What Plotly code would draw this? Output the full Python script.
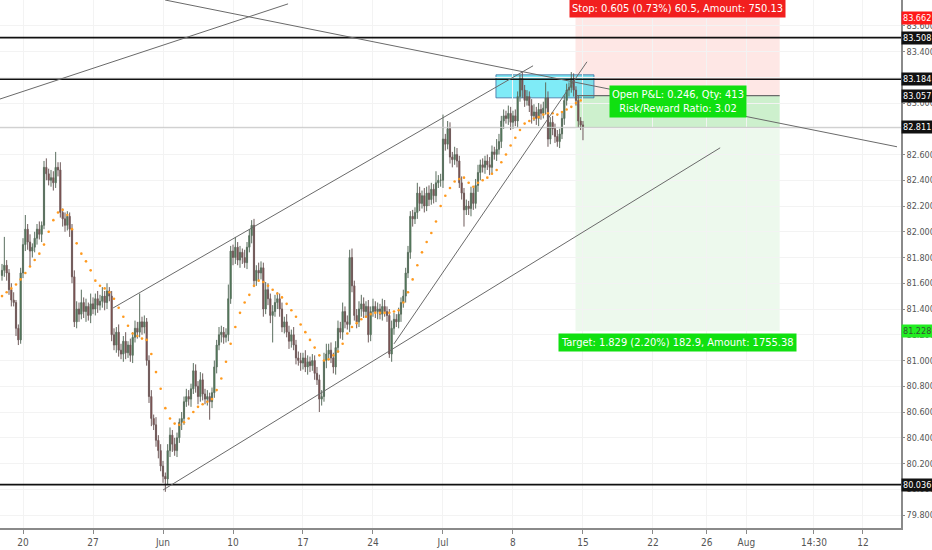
import plotly.graph_objects as go

# 4H CADJPY-like bars, index k = bar number (6 bars per trading day, k=0 -> Mon May 20)
bar_start = -9
first_open = 81.66
closes = [
    81.70, 81.74, 81.68,
    81.55, 81.47, 81.45, 81.25, 81.16, 81.68,
    81.90, 82.02, 81.92, 81.85, 81.88, 81.95,
    82.02, 81.98, 82.05, 82.50, 82.45, 82.40,
    82.42, 82.38, 82.50, 82.48, 82.15, 82.10,
    82.05, 82.12, 82.02, 81.65, 81.30, 81.40,
    81.36, 81.45, 81.38, 81.42, 81.35, 81.44,
    81.40, 81.48, 81.43, 81.46, 81.50, 81.45,
    81.54, 81.50, 81.20, 81.12, 81.22, 81.08,
    81.05, 81.15, 81.06, 81.12, 81.04, 81.18,
    81.25, 81.22, 81.30, 81.26, 81.30, 81.00,
    80.72, 80.55, 80.50, 80.38, 80.30, 80.18,
    80.10, 80.08, 80.30, 80.42, 80.35, 80.30,
    80.40, 80.52, 80.55, 80.68, 80.72, 80.70,
    80.78, 80.92, 80.80, 80.72, 80.85, 80.74,
    80.70, 80.72, 80.68, 80.75, 80.95, 81.12,
    81.20, 81.22, 81.18, 81.20, 81.48, 81.85,
    81.80, 81.88, 81.78, 81.84, 81.80, 81.76,
    81.88, 81.97, 82.05, 81.62, 81.70, 81.68,
    81.72, 81.40, 81.55, 81.48, 81.35, 81.38,
    81.45, 81.48, 81.40, 81.26, 81.30, 81.22,
    81.15, 81.20, 81.12, 81.02, 81.00, 80.98,
    81.02, 80.95, 80.99, 80.96, 81.00, 80.90,
    80.85, 80.70, 80.72, 81.00, 81.05, 81.08,
    81.02, 80.95, 81.10, 81.25, 81.22, 81.38,
    81.30, 81.28, 81.80, 81.58, 81.35, 81.30,
    81.40, 81.44, 81.38, 81.42, 81.20, 81.38,
    81.42, 81.38, 81.40, 81.36, 81.42, 81.38,
    81.35, 81.05, 81.25, 81.32, 81.30, 81.36,
    81.45, 81.50, 81.68, 81.84, 82.12, 82.10,
    82.15, 82.30, 82.22, 82.28, 82.20, 82.30,
    82.25, 82.33, 82.28, 82.38, 82.40, 82.40,
    82.72, 82.68, 82.80, 82.58, 82.56, 82.60,
    82.55, 82.38, 82.30, 82.17, 82.20, 82.18,
    82.30, 82.22, 82.36, 82.46, 82.52, 82.50,
    82.55, 82.52, 82.50, 82.62, 82.60, 82.64,
    82.70, 82.86, 82.90, 82.88, 82.92, 82.85,
    82.90, 82.86, 83.05, 83.19, 83.10, 83.02,
    83.05, 82.98, 82.90, 82.93, 82.88, 82.95,
    82.92, 82.96, 83.04, 82.72, 82.85, 82.80,
    82.74, 82.70, 82.76, 82.88, 83.02, 83.10,
    83.12, 83.19, 83.10, 83.02, 82.86, 82.83,
    82.811,
]
upper_wick = [
    0.05, 0.22, 0.04,
    0.03, 0.05, 0.06, 0.02, 0.03, 0.04,
    0.05, 0.11, 0.04, 0.06, 0.03, 0.05,
    0.04, 0.06, 0.03, 0.05, 0.07, 0.04,
    0.06, 0.05, 0.12, 0.04, 0.06, 0.03,
    0.05, 0.04, 0.03, 0.04, 0.05, 0.06,
    0.05, 0.10, 0.04, 0.06, 0.03, 0.08,
    0.05, 0.04, 0.06, 0.05, 0.07, 0.04,
    0.06, 0.03, 0.04, 0.05, 0.04, 0.06,
    0.05, 0.04, 0.07, 0.03, 0.05, 0.04,
    0.06, 0.05, 0.22, 0.04, 0.05, 0.03,
    0.04, 0.05, 0.03, 0.06, 0.04, 0.05,
    0.04, 0.03, 0.05, 0.06, 0.04, 0.05,
    0.04, 0.03, 0.05, 0.04, 0.06, 0.05,
    0.04, 0.06, 0.05, 0.04, 0.06, 0.05,
    0.04, 0.05, 0.03, 0.04, 0.05, 0.04,
    0.06, 0.05, 0.04, 0.05, 0.11, 0.04,
    0.05, 0.08, 0.04, 0.05, 0.03, 0.06,
    0.04, 0.05, 0.04, 0.05, 0.04, 0.06,
    0.05, 0.04, 0.06, 0.05, 0.04, 0.05,
    0.06, 0.05, 0.04, 0.05, 0.04, 0.06,
    0.05, 0.04, 0.06, 0.04, 0.05, 0.06,
    0.04, 0.06, 0.05, 0.04, 0.05, 0.04,
    0.05, 0.04, 0.05, 0.06, 0.08, 0.05,
    0.06, 0.04, 0.05, 0.06, 0.05, 0.07,
    0.04, 0.05, 0.06, 0.07, 0.04, 0.05,
    0.06, 0.07, 0.05, 0.04, 0.05, 0.04,
    0.06, 0.04, 0.05, 0.04, 0.06, 0.05,
    0.04, 0.05, 0.06, 0.05, 0.04, 0.05,
    0.04, 0.05, 0.04, 0.05, 0.04, 0.05,
    0.04, 0.08, 0.05, 0.04, 0.06, 0.05,
    0.06, 0.05, 0.04, 0.09, 0.04, 0.05,
    0.19, 0.04, 0.06, 0.05, 0.04, 0.06,
    0.05, 0.04, 0.05, 0.04, 0.05, 0.04,
    0.05, 0.04, 0.05, 0.06, 0.04, 0.05,
    0.04, 0.05, 0.06, 0.05, 0.04, 0.08,
    0.06, 0.04, 0.05, 0.04, 0.06, 0.05,
    0.04, 0.05, 0.04, 0.03, 0.05, 0.04,
    0.05, 0.04, 0.05, 0.06, 0.04, 0.05,
    0.04, 0.05, 0.12, 0.05, 0.04, 0.05,
    0.04, 0.05, 0.04, 0.05, 0.04, 0.05,
    0.04, 0.05, 0.04, 0.03, 0.04, 0.03,
    0.03,
]
lower_wick = [
    0.04, 0.05, 0.06,
    0.04, 0.05, 0.03, 0.06, 0.04, 0.03,
    0.04, 0.05, 0.06, 0.12, 0.05, 0.04,
    0.05, 0.04, 0.06, 0.03, 0.05, 0.04,
    0.05, 0.06, 0.04, 0.05, 0.04, 0.06,
    0.05, 0.04, 0.06, 0.05, 0.04, 0.05,
    0.06, 0.04, 0.05, 0.08, 0.04, 0.06,
    0.04, 0.05, 0.06, 0.04, 0.05, 0.06,
    0.05, 0.04, 0.05, 0.04, 0.06, 0.05,
    0.04, 0.06, 0.05, 0.04, 0.05, 0.06,
    0.04, 0.05, 0.04, 0.06, 0.05, 0.04,
    0.05, 0.06, 0.04, 0.05, 0.06, 0.04,
    0.05, 0.10, 0.04, 0.05, 0.06, 0.04,
    0.05, 0.04, 0.06, 0.05, 0.04, 0.05,
    0.06, 0.04, 0.05, 0.06, 0.04, 0.05,
    0.04, 0.05, 0.14, 0.05, 0.04, 0.05,
    0.04, 0.06, 0.05, 0.04, 0.05, 0.04,
    0.06, 0.05, 0.04, 0.06, 0.05, 0.04,
    0.05, 0.04, 0.06, 0.05, 0.04, 0.06,
    0.05, 0.06, 0.04, 0.05, 0.06, 0.21,
    0.04, 0.05, 0.06, 0.04, 0.05, 0.04,
    0.06, 0.05, 0.04, 0.05, 0.04, 0.06,
    0.05, 0.04, 0.06, 0.05, 0.04, 0.05,
    0.04, 0.10, 0.05, 0.04, 0.06, 0.05,
    0.04, 0.05, 0.06, 0.04, 0.05, 0.06,
    0.05, 0.04, 0.06, 0.05, 0.04, 0.05,
    0.04, 0.06, 0.05, 0.04, 0.06, 0.05,
    0.04, 0.05, 0.06, 0.04, 0.05, 0.04,
    0.05, 0.03, 0.06, 0.05, 0.04, 0.05,
    0.06, 0.04, 0.05, 0.04, 0.05, 0.06,
    0.04, 0.05, 0.06, 0.04, 0.05, 0.04,
    0.05, 0.04, 0.06, 0.05, 0.04, 0.05,
    0.06, 0.05, 0.04, 0.05, 0.06, 0.04,
    0.05, 0.04, 0.05, 0.13, 0.04, 0.05,
    0.06, 0.05, 0.04, 0.05, 0.06, 0.04,
    0.05, 0.04, 0.06, 0.05, 0.04, 0.05,
    0.04, 0.05, 0.06, 0.04, 0.05, 0.06,
    0.05, 0.04, 0.05, 0.04, 0.06, 0.05,
    0.04, 0.05, 0.06, 0.04, 0.05, 0.06,
    0.05, 0.04, 0.05, 0.06, 0.04, 0.05,
    0.05, 0.04, 0.05, 0.04, 0.05, 0.04,
    0.05, 0.04, 0.05, 0.04, 0.05, 0.04,
    0.10,
]

# moving average, every 2nd bar from k=-9
ma_start = -9
ma_values = [
    81.50, 81.53, 81.56, 81.59, 81.63, 81.68, 81.73, 81.78, 81.83, 81.90,
    82.00, 82.09, 82.15, 82.17, 82.13, 82.02, 81.91, 81.83, 81.77, 81.70,
    81.62, 81.58, 81.56, 81.53, 81.48, 81.41, 81.34, 81.27, 81.21, 81.19,
    81.17, 81.16, 81.05, 80.91, 80.78, 80.63, 80.55, 80.51, 80.50, 80.52,
    80.55, 80.60, 80.64, 80.66, 80.68, 80.70, 80.77, 80.86, 80.99, 81.13,
    81.26, 81.37, 81.45, 81.51, 81.58, 81.62, 81.61, 81.58, 81.55, 81.52,
    81.49, 81.44, 81.39, 81.34, 81.28, 81.22, 81.16, 81.10, 81.04, 81.00,
    81.01, 81.04, 81.07, 81.13, 81.21, 81.26, 81.29, 81.32, 81.34, 81.36,
    81.37, 81.37, 81.37, 81.37, 81.38, 81.39, 81.45, 81.53, 81.63, 81.74,
    81.84, 81.92, 81.99, 82.08, 82.20, 82.28, 82.34, 82.39, 82.41, 82.42,
    82.38, 82.35, 82.38, 82.40, 82.42, 82.45, 82.48, 82.54, 82.60, 82.67,
    82.73, 82.79, 82.84, 82.86, 82.88, 82.89, 82.91, 82.92, 82.92, 82.91,
    82.93, 82.95, 82.97, 83.00, 83.02,
]

# date ticks (bar index of each label)
tick_pos = [0, 30, 60, 90, 120, 150, 180, 210, 240, 270, 293, 310, 339, 360]
tick_text = ["20", "27", "Jun", "10", "17", "24", "Jul", "8", "15", "22", "26", "Aug", "14:30", "12"]
price_ticks = [79.8, 80.0, 80.2, 80.4, 80.6, 80.8, 81.0, 81.2, 81.4, 81.6, 81.8,
               82.0, 82.2, 82.4, 82.6, 82.8, 83.0, 83.2, 83.4, 83.6]

# drawings: (bar, price) pairs
trend_lines = [
    ((-10, 83.03), (113.6, 83.77)),
    ((60.9, 83.80), (374.6, 82.66)),
    ((38.6, 81.408), (218.6, 83.289)),
    ((60.0, 79.994), (298.8, 82.652)),
    ((159.0, 81.129), (241.7, 83.32)),
]
levels = [83.508, 83.184, 80.036]
last_price = 82.811
entry, stop, target = 83.057, 83.662, 81.228
pos_left, pos_right = 236.8, 324.3
zone = (202.7, 244.7, 83.04, 83.219)

x_range = [-9.86, 376.3]
y_range = [79.699, 83.80]

bars = list(range(bar_start, bar_start + len(closes)))
opens = [first_open] + closes[:-1]
highs = [max(o, c) + u for o, c, u in zip(opens, closes, upper_wick)]
lows = [min(o, c) - d for o, c, d in zip(opens, closes, lower_wick)]
ma_x = list(range(ma_start, ma_start + 2 * len(ma_values), 2))

narrow = "Liberation Sans Narrow, DejaVu Sans Condensed, Liberation Sans, Arial, sans-serif"

fig = go.Figure()
fig.add_trace(go.Candlestick(
    x=bars, open=opens, high=highs, low=lows, close=closes,
    increasing=dict(line=dict(color="#5b6f5f", width=1), fillcolor="#2e7a3e"),
    decreasing=dict(line=dict(color="#6f5b5b", width=1), fillcolor="#8a2c2c"),
    whiskerwidth=0, showlegend=False, hoverinfo="skip"))
fig.add_trace(go.Scatter(x=ma_x, y=ma_values, mode="markers",
                         marker=dict(color="#ff9a1f", size=2.6), showlegend=False, hoverinfo="skip"))

shapes = []
# position tool
shapes.append(dict(type="rect", x0=pos_left, x1=pos_right, y0=entry, y1=stop,
                   fillcolor="rgba(244,67,54,0.13)", line_width=0, layer="below"))
shapes.append(dict(type="rect", x0=pos_left, x1=pos_right, y0=target, y1=entry,
                   fillcolor="rgba(76,200,80,0.10)", line_width=0, layer="below"))
shapes.append(dict(type="rect", x0=pos_left, x1=pos_right, y0=last_price, y1=entry,
                   fillcolor="rgba(60,200,60,0.18)", line_width=0, layer="below"))
shapes.append(dict(type="line", x0=pos_left, x1=pos_right, y0=entry, y1=entry,
                   line=dict(color="#6b6b6b", width=1.2)))
# cyan zone
shapes.append(dict(type="rect", x0=zone[0], x1=zone[1], y0=zone[2], y1=zone[3],
                   fillcolor="rgba(0,215,240,0.5)", line=dict(color="rgba(60,110,160,0.8)", width=1),
                   layer="below"))
# horizontal levels
for lv in levels:
    shapes.append(dict(type="line", xref="paper", x0=0, x1=1, y0=lv, y1=lv,
                       line=dict(color="#111111", width=1.6)))
shapes.append(dict(type="line", xref="paper", x0=0, x1=1, y0=last_price, y1=last_price,
                   line=dict(color="#c8c8c8", width=1)))
# trend lines
for (xa, ya), (xb, yb) in trend_lines:
    shapes.append(dict(type="line", x0=xa, y0=ya, x1=xb, y1=yb,
                       line=dict(color="#6a6a6a", width=1)))

annotations = []
mid = (pos_left + pos_right) / 2
annotations.append(dict(x=mid, y=stop, yanchor="bottom", yshift=0, showarrow=False,
                        text="Stop: 0.605 (0.73%) 60.5, Amount: 750.13",
                        font=dict(color="white", size=11, family=narrow), bgcolor="#f21f1f", borderpad=2))
annotations.append(dict(x=mid, y=entry, yanchor="middle", yshift=-6, showarrow=False,
                        text="Open P&L: 0.246, Qty: 413<br>Risk/Reward Ratio: 3.02",
                        font=dict(color="white", size=11, family=narrow), bgcolor="#10e010", borderpad=2))
annotations.append(dict(x=mid, y=target, yanchor="top", yshift=-2, showarrow=False,
                        text="Target: 1.829 (2.20%) 182.9, Amount: 1755.38",
                        font=dict(color="white", size=11, family=narrow), bgcolor="#10e010", borderpad=2))
# axis price tags
tags = [(stop, "#ff1a1a", "white"), (levels[0], "#111111", "white"), (levels[1], "#111111", "white"),
        (entry, "#111111", "white"), (last_price, "#111111", "white"),
        (target, "#22ee22", "#335533"), (levels[2], "#111111", "white")]
for val, bg, fg in tags:
    annotations.append(dict(xref="paper", x=1, xanchor="left", y=val, yanchor="middle",
                            showarrow=False, text="%.3f" % val, bgcolor=bg,
                            font=dict(color=fg, size=9, family=narrow), borderpad=1, xshift=0))

fig.update_layout(
    width=932, height=550,
    margin=dict(l=0, r=31, t=0, b=22),
    paper_bgcolor="white", plot_bgcolor="white",
    font=dict(family=narrow, color="#555555"),
    shapes=shapes, annotations=annotations,
    xaxis=dict(range=x_range, rangeslider=dict(visible=False), tickvals=tick_pos, ticktext=tick_text,
               showgrid=True, gridcolor="#f3f3f3", zeroline=False, showline=True, linecolor="#8a8a8a",
               linewidth=1.5, ticks="outside", ticklen=4, tickcolor="#8a8a8a",
               tickfont=dict(size=10, color="#555555"), automargin=False),
    yaxis=dict(range=y_range, side="right", tickvals=price_ticks,
               ticktext=["%.3f" % v for v in price_ticks], showgrid=True, gridcolor="#f3f3f3",
               zeroline=False, showline=True, linecolor="#8a8a8a", linewidth=1.5, ticks="outside",
               ticklen=2, tickcolor="#8a8a8a", tickfont=dict(size=9, color="#555555"), automargin=False),
)

fig.write_html("out.html", config={"displayModeBar": False},
               post_script="document.body.style.margin='0';document.body.style.overflow='hidden';")
